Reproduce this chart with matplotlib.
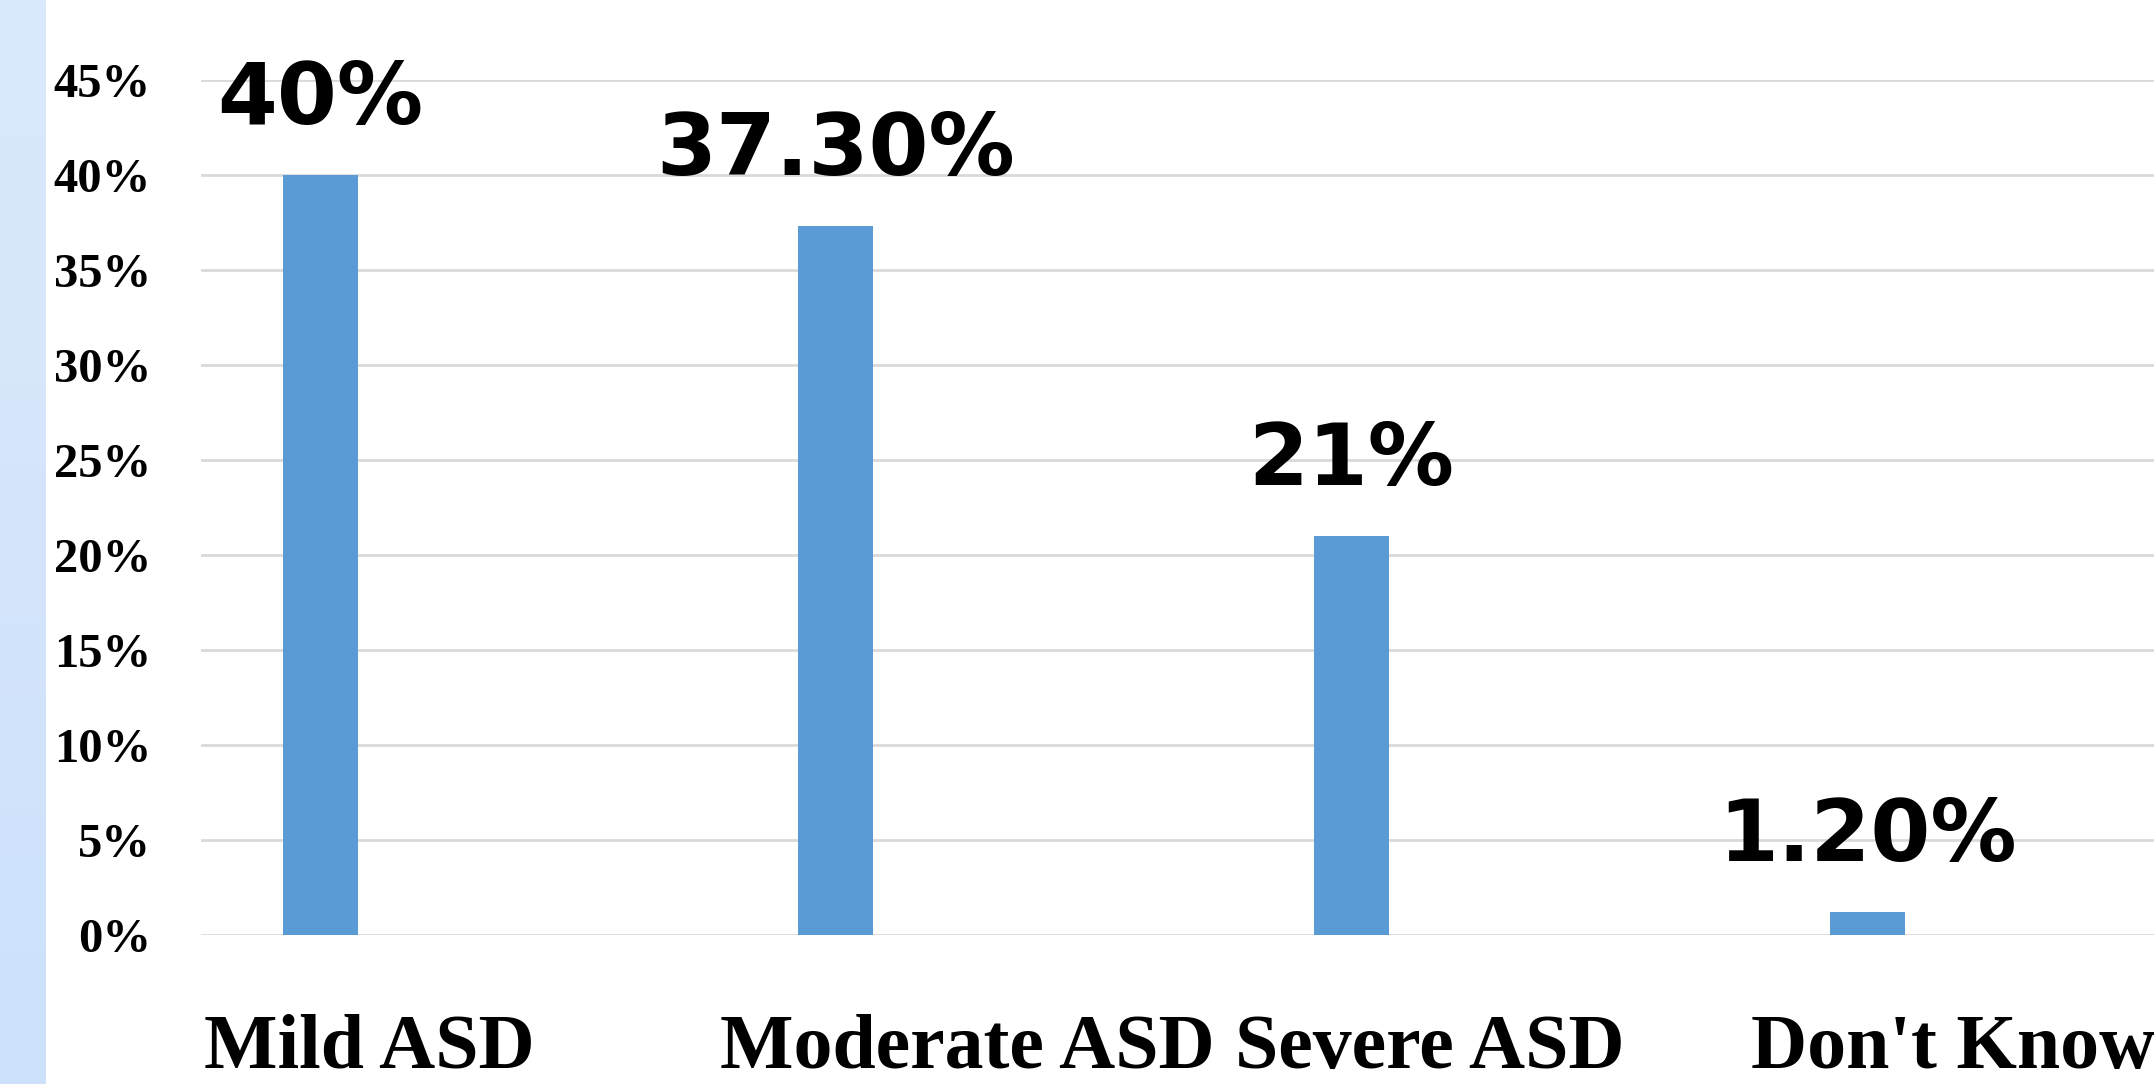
import numpy as np
import matplotlib
matplotlib.use("Agg")
import matplotlib.pyplot as plt
from matplotlib import transforms
from matplotlib.colors import LinearSegmentedColormap

# Severity distribution of ASD among respondents
categories = ["Mild ASD", "Moderate ASD", "Severe ASD", "Don't Know"]
percentages = [40.0, 37.3, 21.0, 1.2]
y_ticks = [0, 5, 10, 15, 20, 25, 30, 35, 40, 45]

BAR_COLOR = "#5B9BD5"
GRID_COLOR = "#D9D9D9"
DPI = 100
W, H = 2154, 1084


def fmt_pct(v):
    return f"{v:.0f}%" if float(v).is_integer() else f"{v:.2f}%"


fig = plt.figure(figsize=(W / DPI, H / DPI), dpi=DPI)
fig.patch.set_facecolor("white")

# light blue band down the left edge
band = fig.add_axes([0, 0, 46 / W, 1])
grad = np.linspace(0, 1, 256).reshape(-1, 1)
cmap = LinearSegmentedColormap.from_list("band", ["#DBE9FC", "#CDE1FB"])
band.imshow(grad, aspect="auto", cmap=cmap, extent=[0, 1, 0, 1], origin="upper")
band.set_axis_off()

# plot area: left edge of gridlines to right edge of figure, 0%..45%
left_px, right_px = 201, W
top_px, bottom_px = 80, 935
ax = fig.add_axes([left_px / W, 1 - bottom_px / H,
                   (right_px - left_px) / W, (bottom_px - top_px) / H])

slot = 515.7  # pixels per category
first_center = 320
x = np.arange(len(categories))
ax.set_xlim((left_px - first_center) / slot, (right_px - first_center) / slot)
ax.set_ylim(0, 45)

ax.bar(x, percentages, width=75 / slot, color=BAR_COLOR, zorder=3)

for s in ax.spines.values():
    s.set_visible(False)
ax.set_yticks(y_ticks)
ax.set_yticklabels([f"{t}%" for t in y_ticks], family="Liberation Serif",
                   fontweight="bold", fontsize=35)
ax.tick_params(axis="y", length=0, pad=36)
ax.set_xticks([])
ax.grid(axis="y", color=GRID_COLOR, linewidth=2.0, zorder=0)
ax.set_axisbelow(True)

# value labels above bars
for xi, v in zip(x, percentages):
    ax.annotate(fmt_pct(v), (xi, v), xytext=(0, 37), textcoords="offset points",
                ha="center", va="baseline", family="DejaVu Sans",
                fontweight="bold", fontsize=62, zorder=4)

# category names, left-aligned a little before each bar
trans = transforms.blended_transform_factory(ax.transData, ax.transAxes)
label_offset = 116 / slot
base_y = -(1068 - bottom_px) / (bottom_px - top_px)
for xi, name in zip(x, categories):
    ax.text(xi - label_offset, base_y, name, transform=trans, ha="left",
            va="baseline", family="Liberation Serif", fontweight="bold",
            fontsize=56, clip_on=False)

fig.savefig("out.png", dpi=DPI, facecolor="white")
